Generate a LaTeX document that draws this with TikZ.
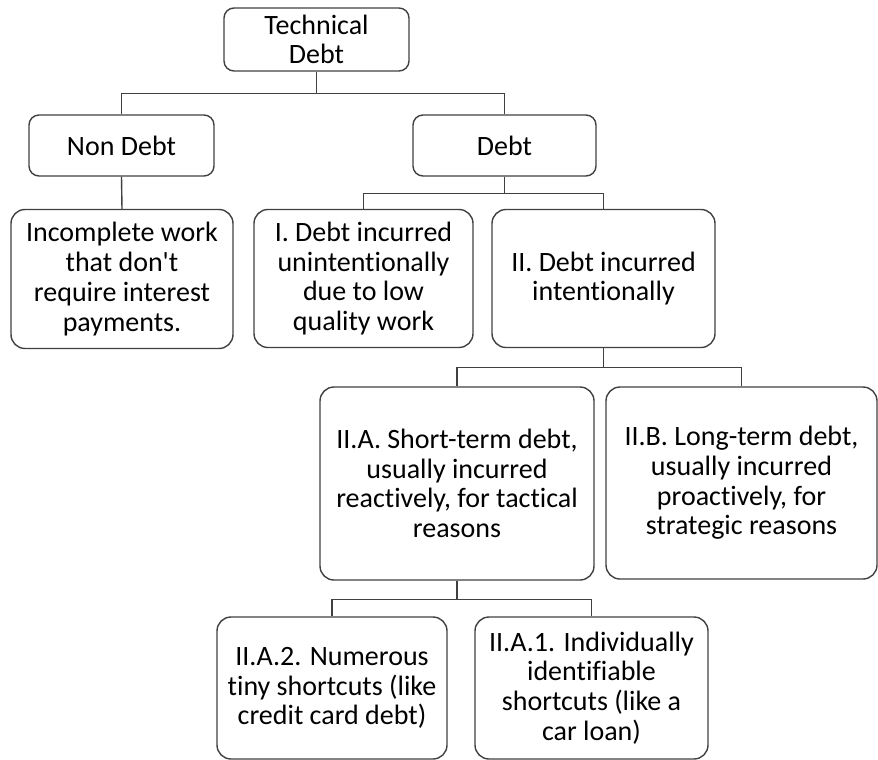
\documentclass[tikz,border=0pt]{standalone}
\usepackage{fontspec}
\setmainfont{Carlito}[Ligatures={TeXOff,NoCommon}]
\begin{document}
\begin{tikzpicture}[x=1pt,y=-1pt,
  box/.style={draw=black!75,line width=1.4pt,rounded corners=10pt,align=center,
    font=\fontsize{28}{29.7}\selectfont,inner sep=0pt,text=black},
  bigbox/.style={box,rounded corners=14pt},
  conn/.style={draw=black!75,line width=1.4pt}]
\useasboundingbox (0,0) rectangle (878,760);
\node[box,minimum width=185pt,minimum height=63pt] (td) at (316.5,39.5) {Technical\\Debt};
\node[box,minimum width=185pt,minimum height=61pt] (nd) at (121.5,145.5) {Non Debt};
\node[box,minimum width=183pt,minimum height=61pt] (d) at (504.5,145.5) {Debt};
\node[bigbox,minimum width=222pt,minimum height=139pt] (inc) at (122,279) {Incomplete work\\that don't\\require interest\\payments.};
\node[bigbox,minimum width=219pt,minimum height=138pt] (i) at (363.5,278.5) {I. Debt incurred\\unintentionally\\due to low\\quality work};
\node[bigbox,minimum width=223pt,minimum height=138pt] (ii) at (603.5,278.5) {II. Debt incurred\\intentionally};
\node[bigbox,minimum width=274pt,minimum height=193pt] (iia) at (457,483.5) {II.A. Short-term debt,\\usually incurred\\reactively, for tactical\\reasons};
\node[bigbox,minimum width=271pt,minimum height=192pt] (iib) at (741.5,483) {II.B. Long-term debt,\\usually incurred\\proactively, for\\strategic reasons};
\node[bigbox,minimum width=230pt,minimum height=142pt] (iia2) at (332,688) {II.A.2. Numerous\\tiny shortcuts (like\\credit card debt)};
\node[bigbox,minimum width=233pt,minimum height=142pt] (iia1) at (591.5,688) {II.A.1. Individually\\identifiable\\shortcuts (like a\\car loan)};
\draw[conn] (td.south) -- ++(0,22) -| (nd.north);
\draw[conn] (td.south) -- ++(0,22) -| (d.north);
\draw[conn] (nd.south) -- (inc.north);
\draw[conn] (d.south) -- ++(0,17) -| (i.north);
\draw[conn] (d.south) -- ++(0,17) -| (ii.north);
\draw[conn] (ii.south) -- ++(0,19) -| (iia.north);
\draw[conn] (ii.south) -- ++(0,19) -| (iib.north);
\draw[conn] (iia.south) -- ++(0,19) -| (iia2.north);
\draw[conn] (iia.south) -- ++(0,19) -| (iia1.north);
\end{tikzpicture}
\end{document}
